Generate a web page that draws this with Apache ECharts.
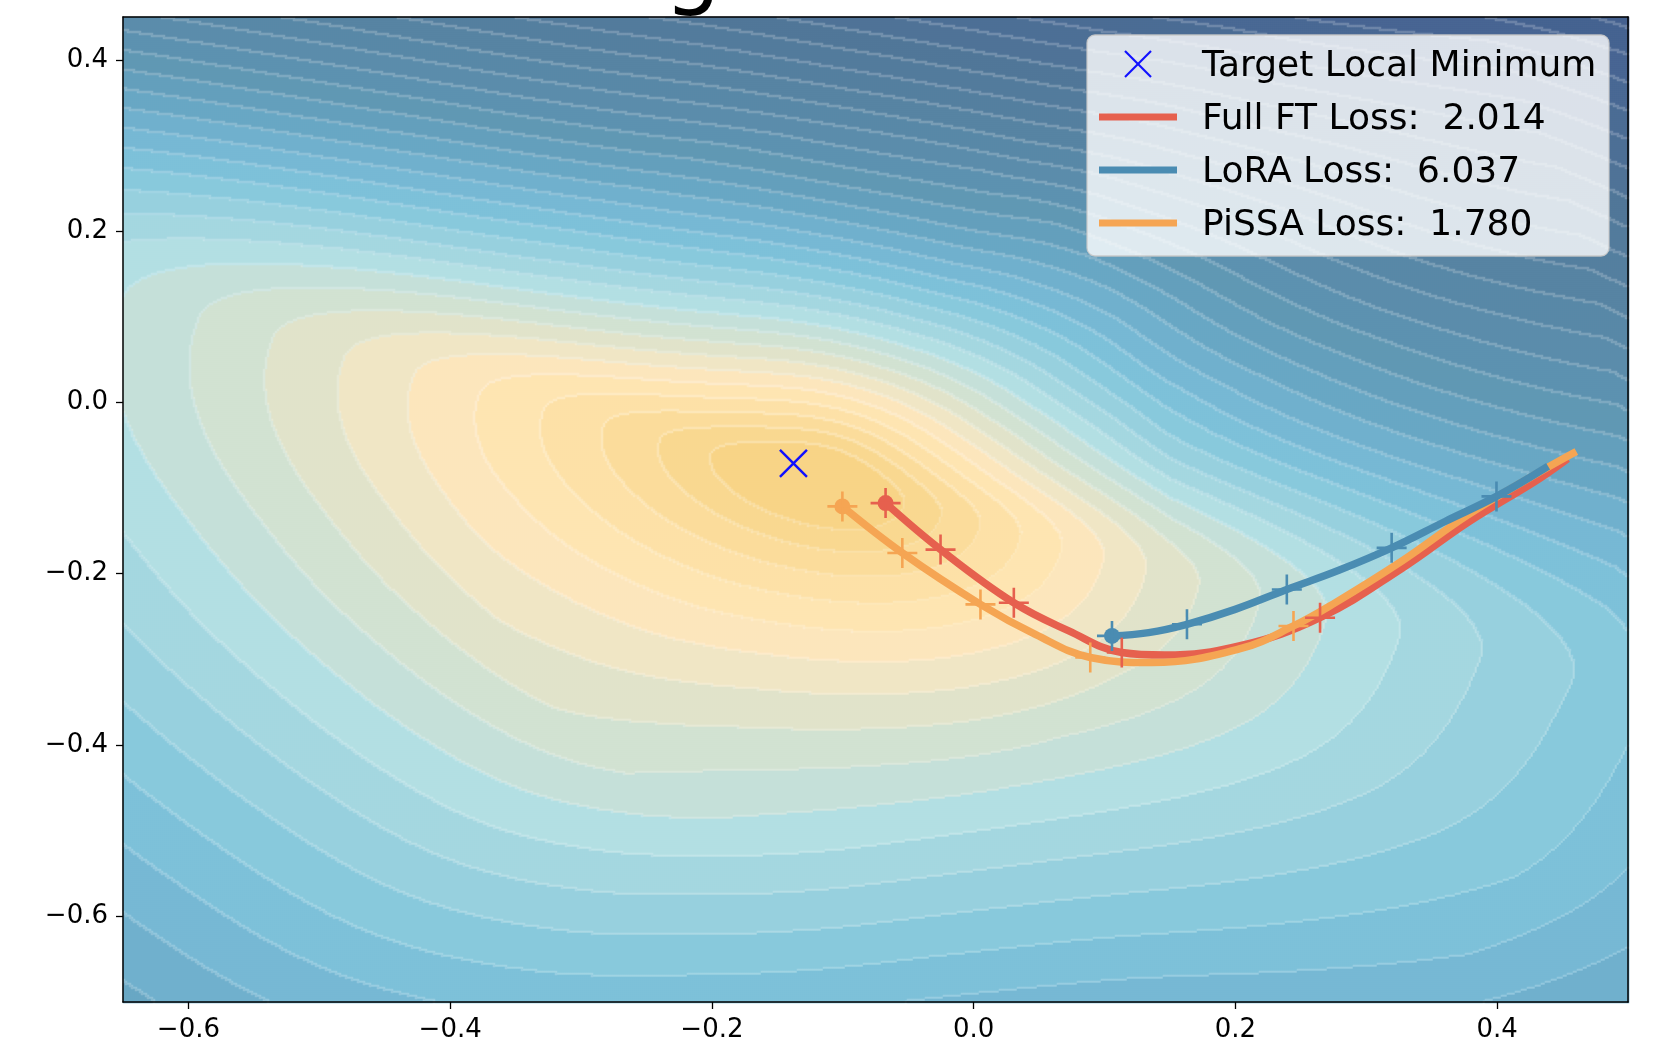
<!DOCTYPE html>
<html>
<head>
<meta charset="utf-8">
<title>Loss landscape trajectories</title>
<script src="https://cdn.jsdelivr.net/npm/echarts@6/dist/echarts.min.js"></script>
<style>
  html, body { margin: 0; padding: 0; background: #ffffff; }
  #chart { width: 1654px; height: 1044px; }
</style>
</head>
<body>
<div id="chart"></div>
<script>
// axis ranges and ticks
var X_MIN = -0.65, X_MAX = 0.5;
var Y_MIN = -0.7, Y_MAX = 0.45;
var xTicks = [-0.6, -0.4, -0.2, 0.0, 0.2, 0.4];
var yTicks = [-0.6, -0.4, -0.2, 0.0, 0.2, 0.4];

// trajectories (x, y)
var fullFtPath = [[-0.0673, -0.1175], [-0.0253, -0.1718], [0.0307, -0.2339], [0.0727, -0.2667],
  [0.1132, -0.2920], [0.1460, -0.2950], [0.2037, -0.2840], [0.2647, -0.2513], [0.3271, -0.1939],
  [0.3780, -0.1396], [0.4288, -0.0923], [0.4516, -0.0682]];
var fullFtMarks = [[-0.0673, -0.1175], [-0.0253, -0.1718], [0.0307, -0.2339], [0.1132, -0.2920], [0.2647, -0.2513]];

var loraPath = [[0.1057, -0.2726], [0.1337, -0.2687], [0.1630, -0.2590], [0.1998, -0.2416],
  [0.2393, -0.2184], [0.2790, -0.1960], [0.3194, -0.1698], [0.3602, -0.1390], [0.3995, -0.1097], [0.4365, -0.0768]];
var loraMarks = [[0.1057, -0.2726], [0.1630, -0.2590], [0.2393, -0.2184], [0.3194, -0.1698], [0.3995, -0.1097]];

var pissaPath = [[-0.1003, -0.1214], [-0.0545, -0.1757], [0.0052, -0.2358], [0.0475, -0.2712],
  [0.0891, -0.2978], [0.1363, -0.3037], [0.2037, -0.2875], [0.2444, -0.2610], [0.2761, -0.2340],
  [0.3271, -0.1853], [0.3780, -0.1310], [0.4288, -0.0845], [0.4580, -0.0594]];
var pissaMarks = [[-0.1003, -0.1214], [-0.0545, -0.1757], [0.0052, -0.2358], [0.0891, -0.2978], [0.2444, -0.2610]];

var targetPoint = [[-0.1377, -0.0712]];

var seriesNames = ['Target Local Minimum', 'Full FT Loss:  2.014', 'LoRA Loss:  6.037', 'PiSSA Loss:  1.780'];

// loss landscape estimated from the contour picture
var basinCenter = [-0.1167, -0.0941];
var basinTiltDeg = 15;
var basinScale = { left: 26, right: 21, up: 4.4, upNear: 6, down: 10 };
var levelPower = 0.75, levelShift = 2;
// contour stretch per 15 degree direction, close to the basin and far out
var stretchNear = [1.16, 1.00, 0.87, 0.83, 0.85, 0.87, 0.89, 0.91, 0.94, 0.97, 1.00, 0.99,
  0.92, 0.82, 0.75, 0.72, 0.74, 0.79, 0.85, 0.92, 0.99, 1.06, 1.12, 1.17];
var stretchFar = [0.88, 0.79, 0.76, 0.80, 0.84, 0.87, 0.89, 0.91, 0.94, 0.97, 1.00, 0.99,
  0.92, 0.82, 0.75, 0.71, 0.73, 0.79, 0.85, 0.91, 0.95, 0.95, 0.96, 0.99];
var bandColors = ['#f8d487', '#f9d891', '#fbdc9b', '#fde1a7', '#fee5b2', '#fce6bd', '#f0e6c5', '#e1e3ca',
  '#d2e2d2', '#c5e0d9', '#b3dfe3', '#a5d7e0', '#97d0de', '#88c9dc', '#7ec1d9', '#77b9d4', '#70b0cd',
  '#69a7c4', '#649fbc', '#6098b4', '#5d92b0', '#5b8dab', '#5988a7', '#5784a3', '#557f9f', '#537b9c',
  '#517799', '#4f7397', '#4d6f96', '#4b6c95', '#4a6994', '#486693', '#466391', '#44608f', '#425d8c',
  '#405a89', '#3e5786'];

var RED = '#e6604e', BLUE = '#4a8cb2', ORANGE = '#f5a553';

var GRID = { left: 123, top: 17, width: 1505, height: 985 };
var SX = GRID.width / (X_MAX - X_MIN);
var SY = GRID.height / (Y_MAX - Y_MIN);
var CELL = 2;

function periodic(table, deg) {
  var n = table.length, t = deg / (360 / n);
  var i = Math.floor(t), f = t - i;
  var p0 = table[(i - 1 + n) % n], p1 = table[i % n];
  var p2 = table[(i + 1) % n], p3 = table[(i + 2) % n];
  return 0.5 * (2 * p1 + (-p0 + p2) * f + (2 * p0 - 5 * p1 + 4 * p2 - p3) * f * f +
    (-p0 + 3 * p1 - 3 * p2 + p3) * f * f * f);
}

function stretchAt(deg, r) {
  var cn = periodic(stretchNear, deg), cf = periodic(stretchFar, deg);
  if (r < 350) return 1 + (cn - 1) * r / 350;
  if (r < 800) return cn + (cf - cn) * (r - 350) / 450;
  return cf;
}

function bandAt(x, y) {
  var dx = (x - basinCenter[0]) * SX;
  var dy = (basinCenter[1] - y) * SY;
  var t = basinTiltDeg * Math.PI / 180;
  var u = dx * Math.cos(t) + dy * Math.sin(t);
  var v = dx * Math.sin(t) - dy * Math.cos(t);
  var r = Math.sqrt(dx * dx + dy * dy);
  var a = u < 0 ? basinScale.left : basinScale.right;
  var b = v > 0 ? basinScale.up + basinScale.upNear * Math.exp(-r / 80) : basinScale.down;
  var e = Math.sqrt((u / a) * (u / a) + (v / b) * (v / b));
  var deg = Math.atan2(-dy, dx) * 180 / Math.PI;
  if (deg < 0) deg += 360;
  e = e * stretchAt(deg, r);
  var k = Math.floor(Math.pow(e, levelPower) - levelShift);
  if (k < 0) k = 0;
  if (k > bandColors.length - 1) k = bandColors.length - 1;
  return k;
}

function mixWhite(hex, w) {
  var r = parseInt(hex.substr(1, 2), 16), g = parseInt(hex.substr(3, 2), 16), b = parseInt(hex.substr(5, 2), 16);
  r = Math.round(r + (255 - r) * w); g = Math.round(g + (255 - g) * w); b = Math.round(b + (255 - b) * w);
  return 'rgb(' + r + ',' + g + ',' + b + ')';
}

// filled contour bands as small rect cells
var nx = Math.ceil(GRID.width / CELL), ny = Math.ceil(GRID.height / CELL);
var bands = new Int16Array(nx * ny);
for (var j = 0; j < ny; j++) {
  for (var i = 0; i < nx; i++) {
    bands[j * nx + i] = bandAt(X_MIN + (i + 0.5) * CELL / SX, Y_MAX - (j + 0.5) * CELL / SY);
  }
}
var buckets = {};
for (var j = 0; j < ny; j++) {
  for (var i = 0; i < nx; i++) {
    var k = bands[j * nx + i];
    var edge = (i < nx - 1 && bands[j * nx + i + 1] !== k) || (j < ny - 1 && bands[(j + 1) * nx + i] !== k);
    var key = k * 2 + (edge ? 1 : 0);
    if (!buckets[key]) buckets[key] = [];
    buckets[key].push([X_MIN + (i + 0.5) * CELL / SX, Y_MAX - (j + 0.5) * CELL / SY]);
  }
}

var series = [];
Object.keys(buckets).forEach(function (key) {
  var k = Math.floor(key / 2), edge = key % 2 === 1;
  series.push({
    type: 'scatter', data: buckets[key], symbol: 'rect', symbolSize: [CELL + 0.5, CELL + 0.5],
    large: true, largeThreshold: 1, progressive: 0, progressiveThreshold: 1e9,
    silent: true, animation: false, z: 1,
    itemStyle: { color: edge ? mixWhite(bandColors[k], 0.2) : bandColors[k], opacity: 1 }
  });
});

var PLUS = 'path://M15,0L15,30M0,15L30,15';
var CROSS = 'path://M0,0L30,30M30,0L0,30';

function pathSeries(name, data, color, z) {
  return { type: 'line', name: name, data: data, smooth: 0.4, symbol: 'none', z: z, silent: true,
    animation: false, lineStyle: { color: color, width: 7.5, cap: 'square' } };
}
function markSeries(data, color, z) {
  return { type: 'scatter', data: data, symbol: PLUS, symbolSize: 30, z: z, silent: true, animation: false,
    itemStyle: { color: 'rgba(0,0,0,0)', borderColor: color, borderWidth: 2.6, opacity: 1 } };
}
function startSeries(point, color, z) {
  return { type: 'scatter', data: [point], symbol: 'circle', symbolSize: 16, z: z, silent: true,
    animation: false, itemStyle: { color: color, opacity: 1 } };
}

series.push(pathSeries(seriesNames[1], fullFtPath, RED, 4));
series.push(pathSeries(seriesNames[3], pissaPath, ORANGE, 5));
series.push(pathSeries(seriesNames[2], loraPath, BLUE, 6));
series.push(startSeries(fullFtMarks[0], RED, 7));
series.push(markSeries(fullFtMarks, RED, 7));
series.push(startSeries(pissaMarks[0], ORANGE, 8));
series.push(markSeries(pissaMarks, ORANGE, 8));
series.push(startSeries(loraMarks[0], BLUE, 9));
series.push(markSeries(loraMarks, BLUE, 9));
series.push({ type: 'scatter', name: seriesNames[0], data: targetPoint, symbol: CROSS, symbolSize: 27, z: 10,
  silent: true, animation: false, itemStyle: { color: 'rgba(0,0,0,0)', borderColor: '#1010ff', borderWidth: 2.4, opacity: 1 } });

function tickText(v) {
  if (Math.abs(v) < 1e-9) v = 0;
  return v.toFixed(1).replace('-', '\u2212');
}

// legend box drawn as graphic, rows at matplotlib positions
var legendRows = [64, 117, 170, 223];
var legendColors = [null, RED, BLUE, ORANGE];
var legendLabels = [seriesNames[0], seriesNames[1], seriesNames[2], seriesNames[3]];
var graphics = [{
  type: 'rect', zlevel: 2, z: 100, shape: { x: 1087, y: 35, width: 522, height: 221, r: 8 },
  style: { fill: 'rgba(255,255,255,0.8)', stroke: 'rgba(200,200,200,0.9)', lineWidth: 1.3 }
}];
legendRows.forEach(function (yy, idx) {
  if (idx === 0) {
    graphics.push({ type: 'polyline', zlevel: 2, z: 101, shape: { points: [[1125, 51], [1151, 77]] }, style: { stroke: '#1010ff', lineWidth: 2.2 } });
    graphics.push({ type: 'polyline', zlevel: 2, z: 101, shape: { points: [[1151, 51], [1125, 77]] }, style: { stroke: '#1010ff', lineWidth: 2.2 } });
  } else {
    graphics.push({ type: 'line', zlevel: 2, z: 101, shape: { x1: 1099, y1: yy, x2: 1177, y2: yy }, style: { stroke: legendColors[idx], lineWidth: 7 } });
  }
  graphics.push({ type: 'text', zlevel: 2, z: 101, x: 1202, y: yy + 3, style: { text: legendLabels[idx], font: '36px "DejaVu Sans"', fill: '#000', verticalAlign: 'middle' } });
});
// title sits above the canvas, only its descender shows
graphics.push({ type: 'text', zlevel: 2, z: 101, x: 366, y: -26, style: { text: 'Training Loss Surface', font: '90px "DejaVu Sans"', fill: '#000', verticalAlign: 'middle' } });

var axisLineStyle = { color: '#000', width: 1.5 };
var option = {
  animation: false,
  backgroundColor: '#ffffff',
  textStyle: { fontFamily: 'DejaVu Sans' },
  grid: { left: GRID.left, top: GRID.top, width: GRID.width, height: GRID.height, containLabel: false },
  xAxis: [{
    type: 'value', min: X_MIN, max: X_MAX, position: 'bottom', z: 20,
    axisLine: { show: true, onZero: false, lineStyle: axisLineStyle },
    axisTick: { show: true, length: 7, customValues: xTicks, lineStyle: { color: '#000', width: 1.3 } },
    axisLabel: { customValues: xTicks, formatter: tickText, fontSize: 26, color: '#000', margin: 15, fontFamily: 'DejaVu Sans' },
    splitLine: { show: false }
  }, {
    type: 'value', min: X_MIN, max: X_MAX, position: 'top', z: 20,
    axisLine: { show: true, onZero: false, lineStyle: axisLineStyle },
    axisTick: { show: false }, axisLabel: { show: false }, splitLine: { show: false }
  }],
  yAxis: [{
    type: 'value', min: Y_MIN, max: Y_MAX, position: 'left', z: 20,
    axisLine: { show: true, onZero: false, lineStyle: axisLineStyle },
    axisTick: { show: true, length: 7, customValues: yTicks, lineStyle: { color: '#000', width: 1.3 } },
    axisLabel: { customValues: yTicks, formatter: tickText, fontSize: 26, color: '#000', margin: 15, fontFamily: 'DejaVu Sans' },
    splitLine: { show: false }
  }, {
    type: 'value', min: Y_MIN, max: Y_MAX, position: 'right', z: 20,
    axisLine: { show: true, onZero: false, lineStyle: axisLineStyle },
    axisTick: { show: false }, axisLabel: { show: false }, splitLine: { show: false }
  }],
  graphic: graphics,
  series: series
};

var chart = echarts.init(document.getElementById('chart'), null, { renderer: 'canvas' });
chart.setOption(option);
</script>
</body>
</html>
